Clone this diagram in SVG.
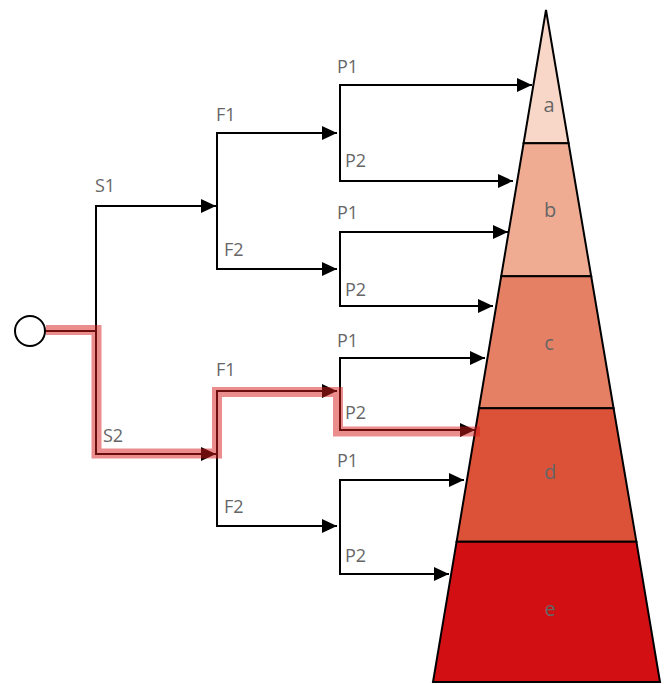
<svg xmlns="http://www.w3.org/2000/svg" width="665" height="684" viewBox="0 0 665 684">
<style>
.e{fill:none;stroke:#000;stroke-width:2;marker-end:url(#arr)}
.t{font-family:"Open Sans","Noto Sans",sans-serif;font-size:18px;fill:#666}
.b{stroke:#000;stroke-width:2;stroke-linejoin:miter}
.bl{font-family:"Open Sans","Noto Sans",sans-serif;font-size:20px;fill:#666;text-anchor:middle}
.hl{fill:none;stroke:#d81c1c;stroke-opacity:0.5;stroke-width:10;stroke-linejoin:miter;stroke-linecap:butt}
</style>
<defs>
<marker id="arr" markerUnits="userSpaceOnUse" markerWidth="16" markerHeight="14" refX="15" refY="7" orient="auto">
<path d="M0,0 L15,7 L0,14 Z" fill="#000"/>
</marker>
</defs>
<rect width="665" height="684" fill="#fff"/>
<g id="pyramid">
<g id="band-a"><polygon class="b" fill="#f8d7c8" points="546,10 568.6,143.3 523.6,143.3"/><text class="bl" x="549" y="112">a</text></g>
<g id="band-b"><polygon class="b" fill="#efac92" points="523.6,143.3 568.6,143.3 591.2,276.3 501.2,276.3"/><text class="bl" x="550" y="217">b</text></g>
<g id="band-c"><polygon class="b" fill="#e68064" points="501.2,276.3 591.2,276.3 613.6,408.3 479,408.3"/><text class="bl" x="549" y="350">c</text></g>
<g id="band-d"><polygon class="b" fill="#dc5238" points="479,408.3 613.6,408.3 636.4,541.7 456.6,541.7"/><text class="bl" x="550" y="479">d</text></g>
<g id="band-e"><polygon class="b" fill="#d21014" points="456.6,541.7 636.4,541.7 660,682 433,682"/><text class="bl" x="550" y="616">e</text></g>
</g>
<g id="start"><circle cx="30" cy="331" r="15" fill="#fff" stroke="#000" stroke-width="2"/></g>
<g id="connectors">
<path class="e" d="M45,331 H96 V206 H216"/>
<path class="e" d="M45,331 H96 V454 H216"/>
<path class="e" d="M217,206 V133 H337"/>
<path class="e" d="M217,206 V269 H337"/>
<path class="e" d="M217,454 V391 H337"/>
<path class="e" d="M217,454 V526 H337"/>
<path class="e" d="M340,133 V85 H532"/>
<path class="e" d="M340,133 V181 H513"/>
<path class="e" d="M340,269 V232 H508"/>
<path class="e" d="M340,269 V306 H493"/>
<path class="e" d="M340,391 V358 H485"/>
<path class="e" d="M340,391 V430 H475"/>
<path class="e" d="M340,526 V480 H464"/>
<path class="e" d="M340,526 V574 H449"/>
</g>
<g id="labels">
<text class="t" x="95" y="192">S1</text>
<text class="t" x="103" y="442">S2</text>
<text class="t" x="216" y="121">F1</text>
<text class="t" x="224" y="256">F2</text>
<text class="t" x="216" y="376">F1</text>
<text class="t" x="224" y="513">F2</text>
<text class="t" x="337" y="73">P1</text>
<text class="t" x="345" y="167">P2</text>
<text class="t" x="337" y="219">P1</text>
<text class="t" x="345" y="296">P2</text>
<text class="t" x="337" y="347">P1</text>
<text class="t" x="345" y="419">P2</text>
<text class="t" x="337" y="467">P1</text>
<text class="t" x="345" y="562">P2</text>
</g>
<g id="highlight">
<path class="hl" d="M46,330 H96.5 V453.5 H217 V392 H338 V431.5 H480"/>
</g>
</svg>
